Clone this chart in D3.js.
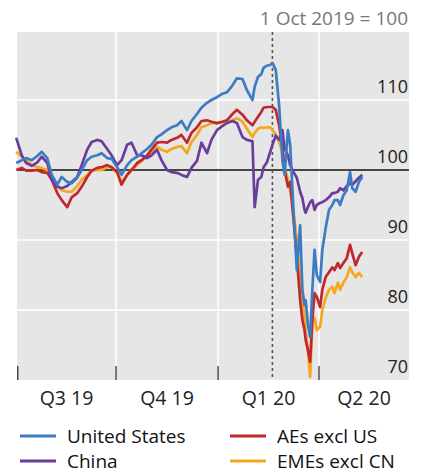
<!DOCTYPE html>
<html>
<head>
<meta charset="utf-8">
<script src="https://cdn.jsdelivr.net/npm/d3@7"></script>
<style>
  html, body { margin: 0; padding: 0; background: #ffffff; }
  svg { display: block; }
  text { font-family: "Open Sans", "Noto Sans", sans-serif; }
</style>
</head>
<body>
<svg id="chart" width="422" height="474"></svg>
<script>
// ---------- data (1 Oct 2019 = 100) ----------
const dates = [
  "2019-07-03","2019-07-08","2019-07-12","2019-07-17","2019-07-22","2019-07-26","2019-07-31",
  "2019-08-04","2019-08-09","2019-08-13","2019-08-18","2019-08-22","2019-08-27","2019-08-31",
  "2019-09-05","2019-09-09","2019-09-14","2019-09-18","2019-09-23","2019-09-27",
  "2019-10-02","2019-10-06","2019-10-11","2019-10-15","2019-10-20","2019-10-24","2019-10-29",
  "2019-11-02","2019-11-07","2019-11-11","2019-11-16","2019-11-20","2019-11-25","2019-11-29",
  "2019-12-04","2019-12-08","2019-12-13","2019-12-17","2019-12-22","2019-12-26","2019-12-31",
  "2020-01-05","2020-01-09","2020-01-14","2020-01-18","2020-01-23","2020-01-27",
  "2020-02-01","2020-02-03","2020-02-06","2020-02-09","2020-02-11","2020-02-14","2020-02-17",
  "2020-02-19","2020-02-22","2020-02-25","2020-02-28",
  "2020-03-01","2020-03-04","2020-03-06","2020-03-09","2020-03-12","2020-03-15","2020-03-17",
  "2020-03-19","2020-03-20","2020-03-22","2020-03-24","2020-03-26","2020-03-28","2020-03-30",
  "2020-04-02","2020-04-04","2020-04-07","2020-04-10","2020-04-13","2020-04-15","2020-04-18",
  "2020-04-20","2020-04-23","2020-04-26","2020-04-29","2020-05-01","2020-05-04","2020-05-07",
  "2020-05-10"
];
const unitedStates = [
  101.0,101.4,101.7,101.4,102.0,102.6,101.7,99.3,97.9,99.0,98.3,98.1,98.9,100.0,
  101.4,101.9,102.1,102.4,101.7,101.6,
  100.4,99.3,100.7,101.4,101.9,102.4,103.0,103.6,104.7,105.1,105.7,106.1,106.4,107.0,
  105.7,107.0,108.0,108.9,109.6,110.0,110.4,
  110.9,111.1,112.1,113.1,113.0,111.4,110.0,111.9,113.3,113.7,114.6,114.9,115.0,
  115.3,114.3,109.3,101.4,
  99.3,105.7,103.6,94.3,85.7,92.1,82.9,80.7,81.4,77.9,76.1,82.9,88.6,85.0,
  84.0,88.6,91.7,94.3,95.0,95.7,95.7,95.0,96.4,97.1,99.7,97.4,96.9,98.3,99.0
];
const aesExclUS = [
  100.0,100.3,99.9,99.9,100.0,99.7,99.6,98.6,96.7,95.7,94.7,96.1,96.7,97.6,
  99.0,99.9,100.3,100.4,100.7,100.4,
  99.7,97.9,99.3,100.0,101.0,101.4,102.1,102.9,103.9,104.0,103.9,104.3,104.6,105.0,
  103.9,105.3,106.1,107.0,107.1,106.9,106.7,
  106.9,107.1,108.0,108.6,107.9,107.1,106.4,106.9,107.6,108.3,108.9,109.0,109.0,
  109.0,108.6,106.4,103.3,
  100.0,97.6,98.3,92.9,87.6,81.4,78.6,77.1,75.7,74.3,72.6,78.6,82.4,81.9,
  80.4,82.9,84.7,85.4,86.1,85.7,86.7,86.0,86.7,87.4,89.3,88.1,86.4,87.6,88.3
];
const china = [
  104.6,102.1,101.0,100.6,101.1,101.9,101.0,98.6,97.6,97.4,97.7,98.3,99.0,100.7,
  102.9,104.0,104.3,104.1,103.0,102.1,
  100.7,101.4,103.6,103.9,102.1,102.1,101.7,102.1,102.9,101.4,100.0,99.7,99.6,99.3,
  99.0,100.3,101.3,103.9,102.4,104.3,105.7,
  106.3,106.7,107.0,106.7,104.7,104.3,104.1,94.7,98.6,99.0,100.4,101.1,102.6,
  103.6,104.9,104.3,105.7,
  103.1,102.1,100.7,99.7,98.9,96.9,96.0,94.3,93.9,94.7,95.4,95.7,94.3,95.0,
  95.3,95.4,95.7,96.1,96.7,96.7,96.9,97.4,97.1,97.7,98.1,97.9,98.4,98.9,99.3
];
const emesExclCN = [
  102.6,101.9,101.4,100.7,100.4,100.3,100.0,99.0,97.9,97.1,96.9,96.9,97.7,98.6,
  99.3,99.9,100.0,100.0,100.4,100.4,
  99.6,98.3,99.3,100.1,100.7,101.3,101.9,102.4,103.3,102.9,102.6,103.0,103.3,103.4,
  102.4,104.0,105.0,106.1,106.4,106.7,106.7,
  106.9,106.7,107.1,107.4,106.9,105.9,104.7,105.3,105.9,106.1,106.0,106.1,106.1,
  105.7,105.1,104.0,102.6,
  100.4,98.6,97.1,94.0,90.0,84.3,81.4,78.9,76.9,74.3,70.4,78.1,78.9,77.1,
  77.6,80.0,81.7,82.9,83.3,82.4,83.9,82.9,83.9,84.7,86.1,85.4,84.7,85.3,84.7
];
const seriesNames = ["United States", "China", "AEs excl US", "EMEs excl CN"];
const yTicks = [70, 80, 90, 100, 110];
const quarterStarts = ["2019-07-01", "2019-10-01", "2020-01-01", "2020-04-01"];
const quarterLabels = ["Q3 19", "Q4 19", "Q1 20", "Q2 20"];
const quarterEnds   = ["2019-10-01", "2020-01-01", "2020-04-01", "2020-06-22"];
const markerDate = "2020-02-19";
const baseValue = 100;

// ---------- layout ----------
const parse = d3.utcParse("%Y-%m-%d");
const plotL = 17, plotR = 409, plotT = 32, plotB = 380;
const colors = {
  "United States": "#3b7cc4",
  "China": "#6a3d9c",
  "AEs excl US": "#c0282e",
  "EMEs excl CN": "#f5a81d"
};
const valuesByName = {
  "United States": unitedStates,
  "China": china,
  "AEs excl US": aesExclUS,
  "EMEs excl CN": emesExclCN
};

const x = d3.scaleUtc()
  .domain([parse("2019-07-01"), parse("2020-04-01")])
  .range([14, 319]);
const y = d3.scaleLinear().domain([70, 110]).range([plotB, 100]);

const svg = d3.select("#chart");

// background
svg.append("rect")
  .attr("x", plotL).attr("y", plotT)
  .attr("width", plotR - plotL).attr("height", plotB - plotT)
  .attr("fill", "#e6e6e6");

// horizontal gridlines
svg.append("g").selectAll("line")
  .data(yTicks.filter(v => v !== baseValue && v !== 70))
  .join("line")
  .attr("x1", plotL).attr("x2", plotR)
  .attr("y1", d => y(d)).attr("y2", d => y(d))
  .attr("stroke", "#ffffff").attr("stroke-width", 1.5);

// vertical gridlines
svg.append("g").selectAll("line")
  .data(quarterStarts.slice(1))
  .join("line")
  .attr("x1", d => x(parse(d))).attr("x2", d => x(parse(d)))
  .attr("y1", plotT).attr("y2", plotB)
  .attr("stroke", "#ffffff").attr("stroke-width", 1.5);

// base line at 100
svg.append("line")
  .attr("x1", plotL).attr("x2", plotR)
  .attr("y1", y(baseValue)).attr("y2", y(baseValue))
  .attr("stroke", "#111").attr("stroke-width", 1.3);

// dashed marker
svg.append("line")
  .attr("x1", x(parse(markerDate))).attr("x2", x(parse(markerDate)))
  .attr("y1", plotT).attr("y2", plotB)
  .attr("stroke", "#555").attr("stroke-width", 1.6)
  .attr("stroke-dasharray", "3,3");

// series lines
const line = d3.line()
  .x((d, i) => x(parse(dates[i])))
  .y(d => y(d));

const drawOrder = ["EMEs excl CN", "AEs excl US", "China", "United States"];
svg.append("g").selectAll("path")
  .data(drawOrder)
  .join("path")
  .attr("d", n => line(valuesByName[n]))
  .attr("fill", "none")
  .attr("stroke", n => colors[n])
  .attr("stroke-width", 2.7)
  .attr("stroke-linejoin", "round");

// bottom ticks (inside the plot)
svg.append("g").selectAll("line")
  .data(quarterStarts)
  .join("line")
  .attr("x1", d => Math.max(plotL + 0.75, x(parse(d))))
  .attr("x2", d => Math.max(plotL + 0.75, x(parse(d))))
  .attr("y1", plotB - 14).attr("y2", plotB)
  .attr("stroke", "#333").attr("stroke-width", 1.3);

// quarter labels
svg.append("g").selectAll("text")
  .data(quarterLabels)
  .join("text")
  .attr("x", (d, i) => (Math.max(plotL, x(parse(quarterStarts[i]))) + Math.min(plotR, x(parse(quarterEnds[i])))) / 2)
  .attr("y", 405)
  .attr("text-anchor", "middle")
  .attr("font-size", 19.5)
  .attr("fill", "#222")
  .text(d => d);

// y tick labels (right side, above gridlines)
svg.append("g").selectAll("text")
  .data(yTicks)
  .join("text")
  .attr("x", 408)
  .attr("y", d => y(d) - 7)
  .attr("text-anchor", "end")
  .attr("font-size", 18)
  .attr("fill", "#222")
  .text(d => d);

// title
svg.append("text")
  .attr("x", 408).attr("y", 25)
  .attr("text-anchor", "end")
  .attr("font-size", 19)
  .attr("fill", "#777")
  .text("1 Oct 2019 = 100");

// legend
const legendPos = [
  { name: "United States", x: 20, y: 436 },
  { name: "AEs excl US", x: 230, y: 436 },
  { name: "China", x: 20, y: 461 },
  { name: "EMEs excl CN", x: 230, y: 461 }
];
const lg = svg.append("g").selectAll("g").data(legendPos).join("g");
lg.append("line")
  .attr("x1", d => d.x).attr("x2", d => d.x + 36)
  .attr("y1", d => d.y).attr("y2", d => d.y)
  .attr("stroke", d => colors[d.name]).attr("stroke-width", 3);
lg.append("text")
  .attr("x", d => d.x + 47).attr("y", d => d.y + 6.5)
  .attr("font-size", 19)
  .attr("fill", "#111")
  .text(d => d.name);
</script>
</body>
</html>
